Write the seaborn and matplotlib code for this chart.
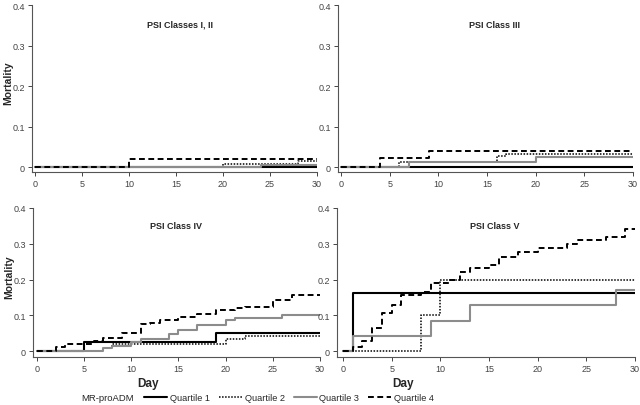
import matplotlib
matplotlib.use("Agg")
import matplotlib.pyplot as plt
import seaborn as sns
import pandas as pd
from matplotlib.lines import Line2D

# step data: (day of step, cumulative mortality after step)
panels = ["PSI Classes I, II", "PSI Class III", "PSI Class IV", "PSI Class V"]
quartiles = ["Quartile 1", "Quartile 2", "Quartile 3", "Quartile 4"]

q1_days = [[0], [0], [0, 5, 19], [0, 1]]
q1_vals = [[0.0], [0.0], [0.0, 0.026, 0.051], [0.0, 0.163]]

q2_days = [[0, 20, 28], [0, 6, 16, 17], [0, 7, 8, 20, 22], [0, 8, 10]]
q2_vals = [[0.0, 0.007, 0.014], [0.0, 0.012, 0.027, 0.033],
           [0.0, 0.01, 0.021, 0.033, 0.042], [0.0, 0.1, 0.2]]

q3_days = [[0, 24], [0, 7, 20], [0, 7, 8, 10, 11, 14, 15, 17, 20, 21, 26], [0, 1, 9, 13, 28]]
q3_vals = [[0.0, 0.006], [0.0, 0.013, 0.025],
           [0.0, 0.01, 0.015, 0.027, 0.033, 0.047, 0.06, 0.073, 0.086, 0.093, 0.1],
           [0.0, 0.044, 0.084, 0.128, 0.172]]

q4_days = [[0, 10], [0, 4, 9],
           [0, 2, 3, 6, 7, 9, 11, 12, 13, 15, 17, 19, 21, 22, 25, 27],
           [0, 1, 2, 3, 4, 5, 6, 8, 9, 11, 12, 13, 15, 16, 18, 20, 23, 24, 27, 29]]
q4_vals = [[0.0, 0.021], [0.0, 0.022, 0.04],
           [0.0, 0.013, 0.02, 0.029, 0.037, 0.052, 0.075, 0.08, 0.088, 0.095,
            0.103, 0.115, 0.12, 0.123, 0.143, 0.158],
           [0.0, 0.013, 0.03, 0.066, 0.107, 0.13, 0.157, 0.166, 0.19, 0.199, 0.222,
            0.232, 0.24, 0.263, 0.277, 0.287, 0.3, 0.31, 0.32, 0.342]]

all_days = [q1_days, q2_days, q3_days, q4_days]
all_vals = [q1_vals, q2_vals, q3_vals, q4_vals]

styles = [
    dict(color="black", lw=1.5, ls="-"),
    dict(color="black", lw=1.1, ls=(0, (1, 1))),
    dict(color="#8c8c8c", lw=1.5, ls="-"),
    dict(color="black", lw=1.4, ls=(0, (3, 1.8))),
]

sns.set_style("ticks")
plt.rcParams["font.family"] = ["Liberation Sans", "DejaVu Sans"]

fig = plt.figure(figsize=(6.4, 4.06), dpi=100)

rects = [
    [32 / 640, 1 - 173 / 406, 285 / 640, 167 / 406],
    [338 / 640, 1 - 173 / 406, 295 / 640, 167 / 406],
    [33 / 640, 1 - 358 / 406, 287 / 640, 149 / 406],
    [337 / 640, 1 - 358 / 406, 298 / 640, 149 / 406],
]
xlefts = [-0.32, -0.31, -0.42, -0.62]
ybottoms = [-0.012, -0.012, -0.016, -0.016]
title_x = [0.52, 0.53, 0.50, 0.53]

for i, r in enumerate(rects):
    ax = fig.add_axes(r)
    for q in range(4):
        d = list(all_days[q][i]) + [30]
        v = list(all_vals[q][i]) + [all_vals[q][i][-1]]
        df = pd.DataFrame({"day": d, "mort": v})
        st = styles[q]
        sns.lineplot(data=df, x="day", y="mort", ax=ax, estimator=None,
                     drawstyle="steps-post", color=st["color"], lw=st["lw"],
                     linestyle=st["ls"], zorder=2 + q)
    ax.set_xlim(xlefts[i], 30)
    ax.set_ylim(ybottoms[i], 0.4)
    ax.set_xticks([0, 5, 10, 15, 20, 25, 30])
    ax.set_yticks([0, 0.1, 0.2, 0.3, 0.4])
    ax.set_yticklabels(["0", "0.1", "0.2", "0.3", "0.4"])
    ax.tick_params(labelsize=6.5, colors="#444444", length=3, width=0.7, pad=2)
    for s in ["left", "bottom"]:
        ax.spines[s].set_color("#555555")
        ax.spines[s].set_linewidth(0.8)
    sns.despine(ax=ax)
    ax.text(title_x[i], 0.885, panels[i], transform=ax.transAxes, ha="center",
            va="center", fontsize=6.5, fontweight="bold")
    if i in (0, 2):
        ax.set_ylabel("Mortality", fontsize=7.5, fontweight="bold")
        ax.yaxis.set_label_coords(-0.065, 0.54)
    else:
        ax.set_ylabel("")
    if i >= 2:
        ax.set_xlabel("Day", fontsize=8.5, fontweight="bold")
        ax.xaxis.set_label_coords(0.4 if i == 2 else 0.22, -0.135)
    else:
        ax.set_xlabel("")

handles = [Line2D([], [], color=s["color"], lw=s["lw"], linestyle=s["ls"]) for s in styles]
fig.text(108 / 640, 1 - 399 / 406, "MR-proADM", ha="center", va="center", fontsize=6.8)
fig.legend(handles, quartiles, ncol=4, loc="center", bbox_to_anchor=(289 / 640, 1 - 399 / 406),
           frameon=False, fontsize=6.6, handlelength=2.5, handletextpad=0.3,
           columnspacing=1.0, borderpad=0)

fig.savefig("out.png", dpi=100)
